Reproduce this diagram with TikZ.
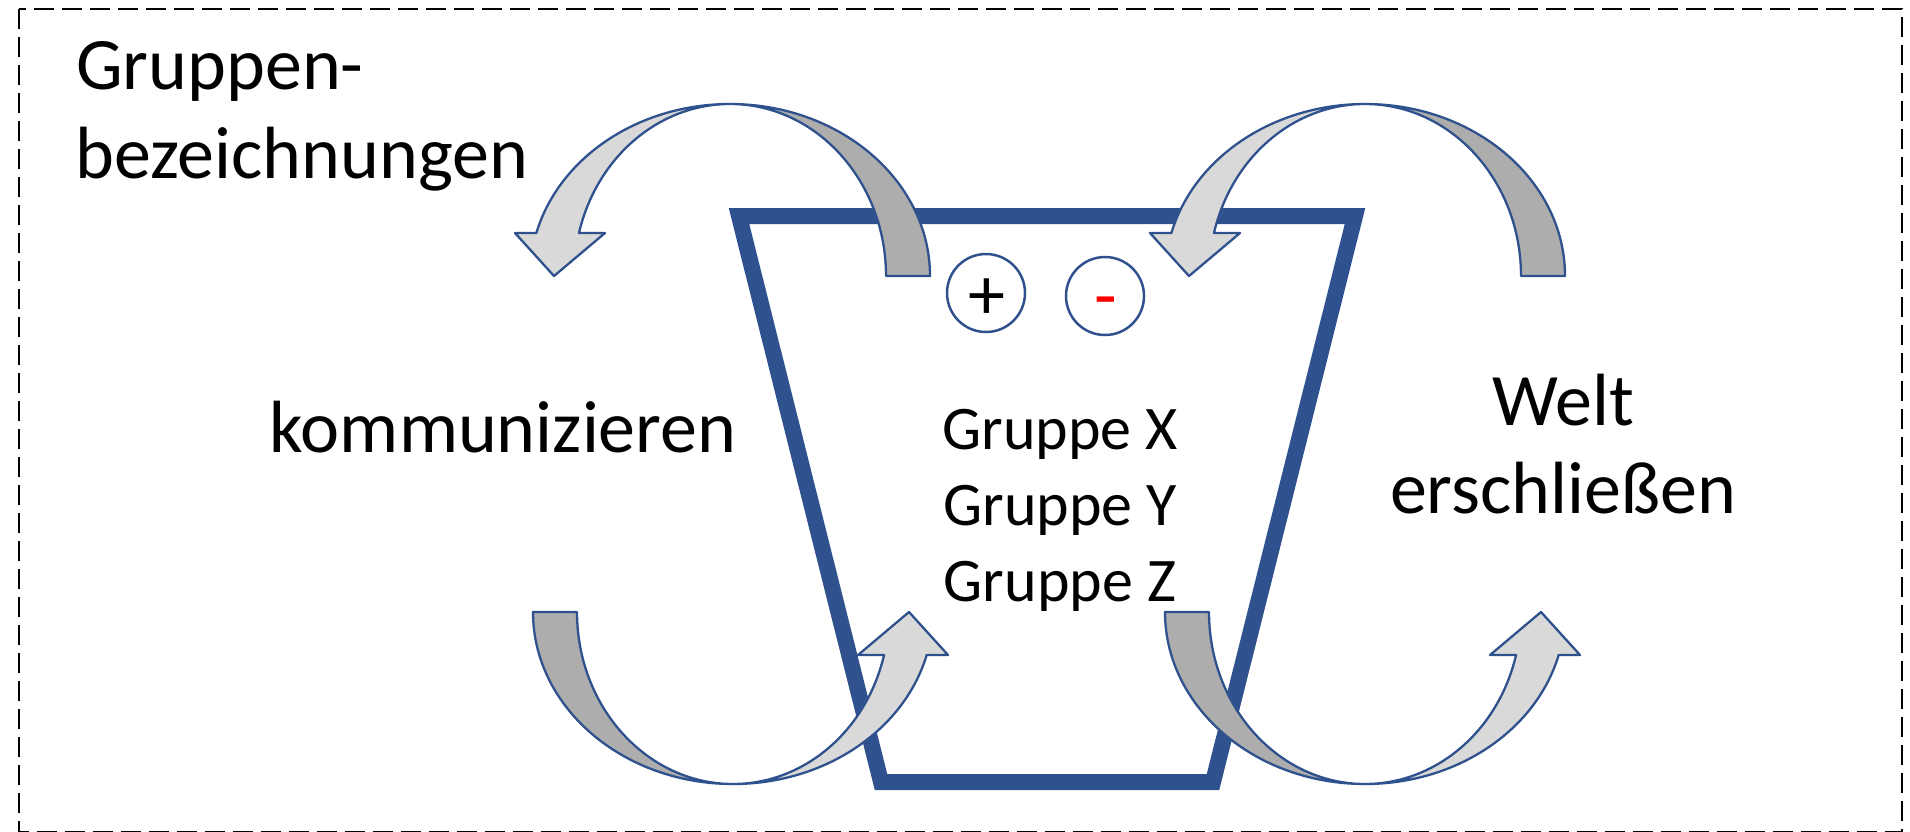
\documentclass[tikz,border=0pt]{standalone}
\usepackage{fontspec}
\setmainfont{Carlito}
\definecolor{pptblue}{RGB}{47,82,143}
\definecolor{darkband}{RGB}{173,173,173}
\definecolor{lightband}{RGB}{217,217,217}
\definecolor{signred}{RGB}{255,0,0}
\begin{document}
\begin{tikzpicture}[x=1pt,y=1pt,
  outline/.style={draw=pptblue, line width=2.3pt, line join=round},
  darkarrow/.style={outline, fill=darkband},
  lightarrow/.style={outline, fill=lightband},
  funnel/.style={draw=pptblue, line width=16pt, line join=miter},
  signcircle/.style={draw=pptblue, line width=2.5pt, circle, minimum size=78pt, inner sep=0pt},
  bigtext/.style={font=\fontsize{74}{88}\selectfont, inner sep=0pt},
  grouptext/.style={font=\fontsize{62}{76}\selectfont, inner sep=0pt},
  signtext/.style={font=\fontsize{74}{88}\selectfont, inner sep=0pt, anchor=base},
  border/.style={draw=black, line width=2pt, dash pattern=on 20pt off 8pt}
]
\useasboundingbox (0,0) rectangle (1910,-831);
\draw[border] (19,-9) rectangle (1902,-831.5);

% funnel
\draw[funnel] (739,-216) -- (1355,-216) -- (1213,-782) -- (881,-782) -- cycle;

% circles with signs
\node[signcircle] (plus) at (986,-293) {};
\node[signcircle] (minus) at (1105,-296) {};
\node[signtext] (plustext) at (987,-319) {+};
\node[signtext, text=signred] (minustext) at (1106,-320) {-};

% curved arrow pairs
\newcommand{\arrowpair}{%
  \draw[darkarrow] (200,0) arc[start angle=0, end angle=90, x radius=200pt, y radius=172pt]
     arc[start angle=90, end angle=0, x radius=156pt, y radius=172pt] -- cycle;
  \draw[lightarrow] (0,172) arc[start angle=90, end angle=165.52, x radius=200pt, y radius=172pt]
     -- (-215,43) -- (-176,0) -- (-125,43) -- (-151.05,43)
     arc[start angle=165.52, end angle=90, x radius=156pt, y radius=172pt] -- cycle;
}
\begin{scope}[shift={(730,-276)}]\arrowpair\end{scope}
\begin{scope}[shift={(1365,-276)}]\arrowpair\end{scope}
\begin{scope}[shift={(733,-612)}, rotate=180]\arrowpair\end{scope}
\begin{scope}[shift={(1365,-612)}, rotate=180]\arrowpair\end{scope}

% texts
\node[bigtext, anchor=base west] (g1) at (76,-89) {Gruppen-};
\node[bigtext, anchor=base west] (g2) at (75,-178) {bezeichnungen};
\node[bigtext, anchor=base] (komm) at (503,-452) {kommunizieren};
\node[bigtext, anchor=base] (welt) at (1563,-425) {Welt};
\node[bigtext, anchor=base] (ersch) at (1563,-513) {erschließen};
\node[grouptext, anchor=base] (gx) at (1060,-449) {Gruppe X};
\node[grouptext, anchor=base] (gy) at (1060,-525) {Gruppe Y};
\node[grouptext, anchor=base] (gz) at (1060,-601) {Gruppe Z};
\end{tikzpicture}
\end{document}
